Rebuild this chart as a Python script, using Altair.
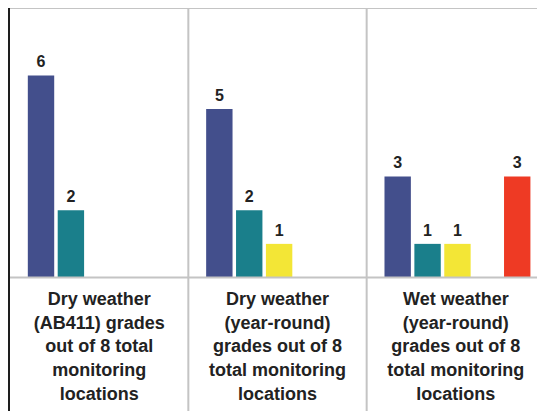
import altair as alt
import pandas as pd

# ---- data ----
panels = ["dry_ab411", "dry_year", "wet_year"]
captions = [
    "Dry weather\n(AB411) grades\nout of 8 total\nmonitoring\nlocations",
    "Dry weather\n(year-round)\ngrades out of 8\ntotal monitoring\nlocations",
    "Wet weather\n(year-round)\ngrades out of 8\ntotal monitoring\nlocations",
]
grades = ["A", "B", "C", "D", "F"]
grade_colors = ["#434f8c", "#1a7f8b", "#f3e636", "#f28c28", "#ee3a24"]
counts_dry_ab411 = [6, 2, 0, 0, 0]
counts_dry_year = [5, 2, 1, 0, 0]
counts_wet_year = [3, 1, 1, 0, 3]
total_locations = 8

rows = []
for p, counts in zip(panels, [counts_dry_ab411, counts_dry_year, counts_wet_year]):
    for g, c in zip(grades, counts):
        if c > 0:
            rows.append({"panel": p, "grade": g, "count": c})
bars_df = pd.DataFrame(rows)
cap_df = pd.DataFrame({"panel": panels, "caption": captions})
hrule_df = pd.DataFrame({"v": [0, total_locations]})
vrule_df = pd.DataFrame({"panel": panels[1:]})

W, H = 529, 403
FONT = "Liberation Sans, Arial, Helvetica, sans-serif"
x_scale = alt.Scale(domain=panels, range=[2, 537], paddingInner=0, paddingOuter=0)
y_scale = alt.Scale(domain=[-3.96, total_locations], nice=False, zero=False)
xo_scale = alt.Scale(domain=grades, paddingInner=0.117, paddingOuter=0.542, align=0.55)

base = alt.Chart(bars_df)

bars = base.mark_bar().encode(
    x=alt.X("panel:N", scale=x_scale, axis=None),
    xOffset=alt.XOffset("grade:N", scale=xo_scale),
    y=alt.Y("count:Q", scale=y_scale, axis=None),
    y2=alt.datum(0),
    color=alt.Color("grade:N", scale=alt.Scale(domain=grades, range=grade_colors), legend=None),
)

labels = base.mark_text(
    font=FONT, fontWeight="bold", fontSize=16, color="#222222",
    baseline="alphabetic", dy=-8,
).encode(
    x=alt.X("panel:N", scale=x_scale, axis=None),
    xOffset=alt.XOffset("grade:N", scale=xo_scale),
    y=alt.Y("count:Q", scale=y_scale, axis=None),
    text=alt.Text("count:Q"),
)

caps = alt.Chart(cap_df).mark_text(
    font=FONT, fontWeight="bold", fontSize=18, color="#222222", baseline="top",
    lineBreak="\n", lineHeight=23.7, align="center",
).encode(
    x=alt.X("panel:N", scale=x_scale, axis=None),
    y=alt.value(283),
    text="caption:N",
)

hrules = alt.Chart(hrule_df).mark_rule(color="#c4c4c4", strokeWidth=2).encode(
    y=alt.Y("v:Q", scale=y_scale, axis=None),
    x=alt.value(2),
    x2=alt.value(W),
)

vrules = alt.Chart(vrule_df).mark_rule(color="#c4c4c4", strokeWidth=2).encode(
    x=alt.X("panel:N", scale=x_scale, axis=None, bandPosition=0),
    y=alt.value(0),
    y2=alt.value(H),
)

black = alt.Chart(hrule_df).mark_rule(color="#1e1e1e", strokeWidth=2).encode(
    x=alt.value(1),
    y=alt.value(0),
    y2=alt.value(H),
)

chart = alt.layer(bars, hrules, vrules, black, labels, caps).properties(
    width=W, height=H, padding=0,
    autosize=alt.AutoSizeParams(type="none"),
).configure_view(stroke=None)

chart.save("out.html", embed_options={"renderer": "svg", "actions": False})
